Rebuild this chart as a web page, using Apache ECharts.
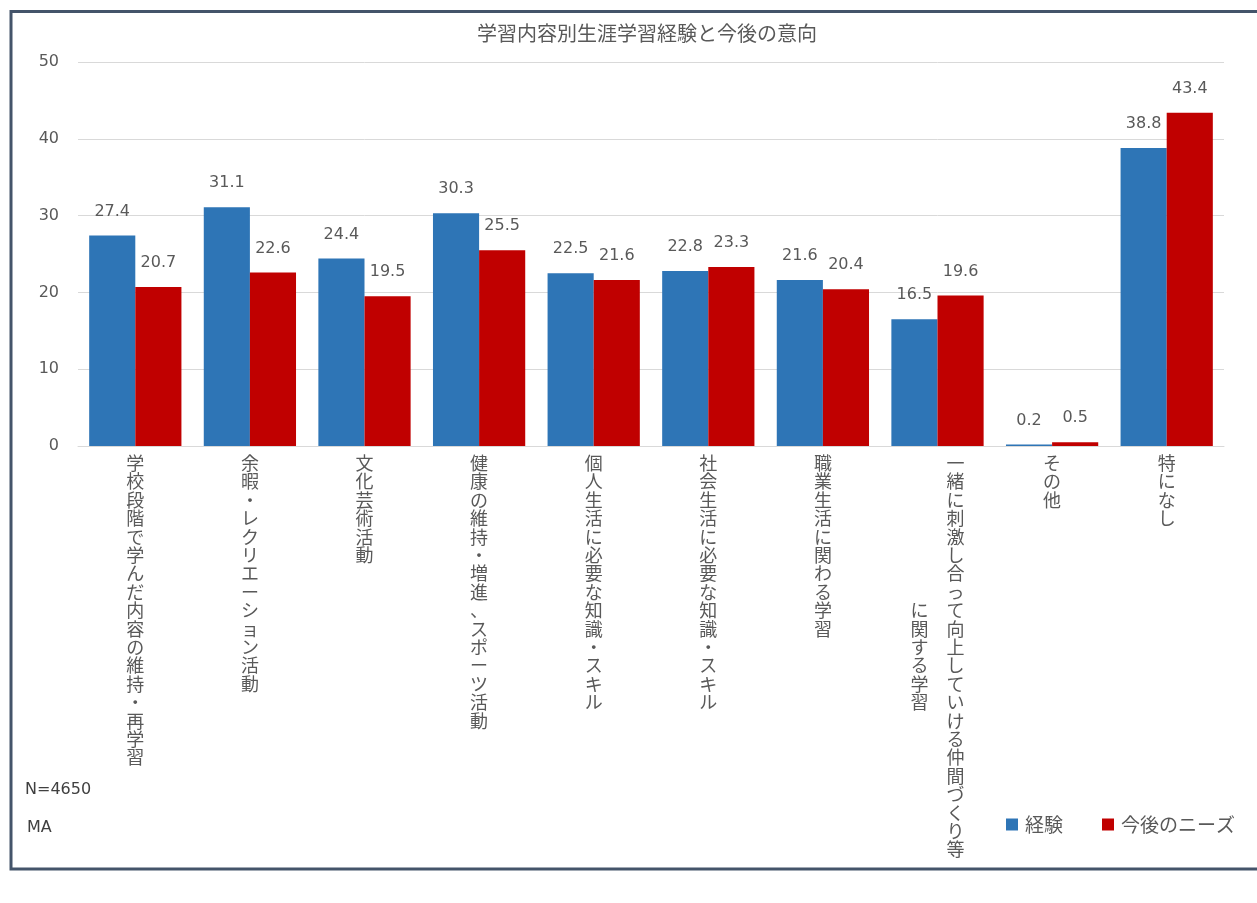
<!DOCTYPE html>
<html>
<head>
<meta charset="utf-8">
<script src="https://cdn.jsdelivr.net/npm/echarts@6/dist/echarts.min.js"></script>
<style>
html,body{margin:0;padding:0;background:#fff;}
#chart{width:1257px;height:903px;}
</style>
</head>
<body>
<div id="chart"></div>
<script>
const title = '学習内容別生涯学習経験と今後の意向';
const categories = [
  '学校段階で学んだ内容の維持・再学習',
  '余暇・レクリエーション活動',
  '文化芸術活動',
  '健康の維持・増進、スポーツ活動',
  '個人生活に必要な知識・スキル',
  '社会生活に必要な知識・スキル',
  '職業生活に関わる学習',
  '一緒に刺激し合って向上していける仲間づくり等に関する学習',
  'その他',
  '特になし'
];
const seriesNames = ['経験', '今後のニーズ'];
const experience = [27.4, 31.1, 24.4, 30.3, 22.5, 22.8, 21.6, 16.5, 0.2, 38.8];
const needs = [20.7, 22.6, 19.5, 25.5, 21.6, 23.3, 20.4, 19.6, 0.5, 43.4];
const yTicks = [0, 10, 20, 30, 40, 50];
const noteLines = ['N=4650', 'MA'];

const CJK = "'Noto Sans CJK JP', 'Noto Sans CJK SC', sans-serif";
const NUM = "'DejaVu Sans', 'Noto Sans CJK JP', sans-serif";
const MAXCOL = 22;

// vertical (top-to-bottom, right-to-left columns) layout of a label
function verticalize(s) {
  const chars = Array.from(s);
  const cols = [];
  for (let i = 0; i < chars.length; i += MAXCOL) cols.push(chars.slice(i, i + MAXCOL));
  if (cols.length === 1) return cols[0].join('\n');
  const n = cols[0].length;
  const lines = [];
  for (let i = 0; i < n; i++) {
    const parts = [];
    for (let c = cols.length - 1; c >= 0; c--) {
      const col = cols[c];
      const off = Math.floor((n - col.length) / 2);
      const k = i - off;
      parts.push(k >= 0 && k < col.length ? col[k] : '\u3000');
    }
    lines.push(parts.join('\u3000'));
  }
  return lines.join('\n');
}

const chart = echarts.init(document.getElementById('chart'), null, {renderer: 'canvas'});
const labelCommon = {
  show: true,
  position: 'top',
  distance: 16,
  color: '#595959',
  fontSize: 16,
  fontFamily: NUM,
  formatter: p => p.value.toFixed(1)
};
chart.setOption({
  backgroundColor: '#ffffff',
  animation: false,
  title: {
    text: title,
    left: 642,
    top: 18,
    textAlign: 'center',
    textStyle: {color: '#595959', fontSize: 20, fontWeight: 'normal', fontFamily: CJK}
  },
  legend: {
    data: seriesNames,
    left: 1001,
    top: 810,
    icon: 'rect',
    itemWidth: 12,
    itemHeight: 12,
    itemGap: 39,
    textStyle: {color: '#595959', fontSize: 19, fontFamily: CJK, padding: [0, 0, 0, 2]}
  },
  grid: {left: 78, right: 33, top: 62, bottom: 457, containLabel: false},
  xAxis: {
    type: 'category',
    data: categories,
    axisLine: {show: true, lineStyle: {color: '#d9d9d9', width: 1}},
    axisTick: {show: false},
    axisLabel: {
      interval: 0,
      margin: 8,
      color: '#595959',
      fontSize: 18,
      lineHeight: 18.4,
      fontFamily: CJK,
      verticalAlign: 'top',
      formatter: v => verticalize(v)
    }
  },
  yAxis: {
    type: 'value',
    min: yTicks[0],
    max: yTicks[yTicks.length - 1],
    interval: yTicks[1] - yTicks[0],
    axisLine: {show: false},
    axisTick: {show: false},
    splitLine: {lineStyle: {color: '#d9d9d9', width: 1}},
    axisLabel: {margin: 19, color: '#595959', fontSize: 16, fontFamily: NUM}
  },
  series: [
    {
      name: seriesNames[0],
      type: 'bar',
      data: experience,
      barGap: '0%',
      barCategoryGap: '19.5%',
      itemStyle: {color: '#2E75B6'},
      label: labelCommon
    },
    {
      name: seriesNames[1],
      type: 'bar',
      data: needs,
      barGap: '0%',
      barCategoryGap: '19.5%',
      itemStyle: {color: '#C00000'},
      label: labelCommon
    }
  ],
  graphic: [
    {
      type: 'rect',
      shape: {x: 11, y: 11.5, width: 1300, height: 857.5},
      style: {fill: 'none', stroke: '#44546A', lineWidth: 3},
      silent: true
    },
    {
      type: 'text',
      left: 25,
      top: 782,
      style: {text: noteLines[0], fill: '#404040', fontSize: 16, fontFamily: NUM}
    },
    {
      type: 'text',
      left: 27,
      top: 820,
      style: {text: noteLines[1], fill: '#404040', fontSize: 16, fontFamily: NUM}
    }
  ]
});
</script>
</body>
</html>
